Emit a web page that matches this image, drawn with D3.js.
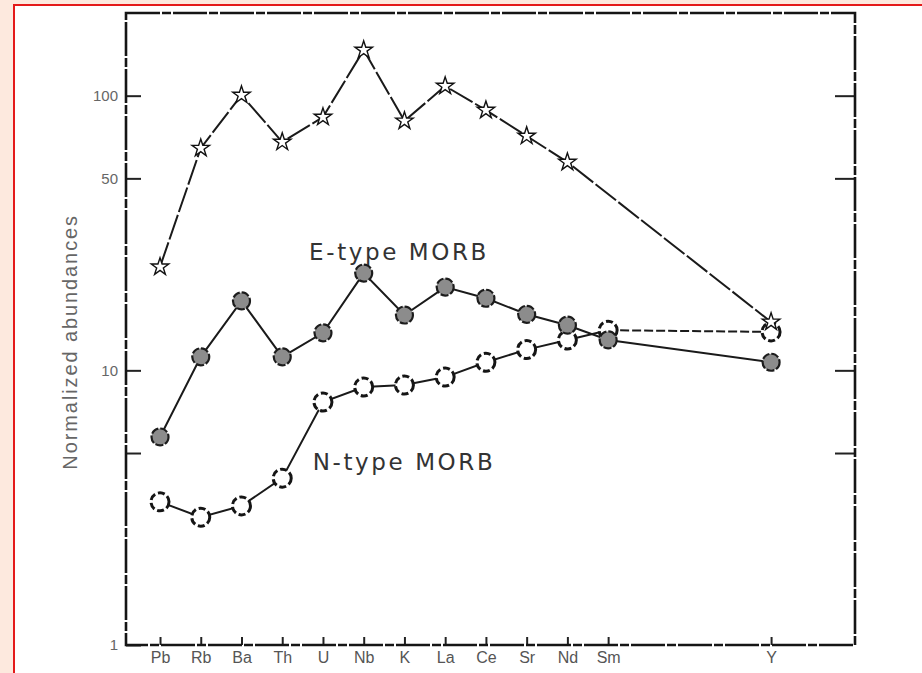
<!DOCTYPE html>
<meta charset="utf-8">
<style>
  body { margin: 0; background: #fde9de; }
  text { font-family: "Liberation Sans", Arial, sans-serif; }
</style>
<body>
<script src="https://d3js.org/d3.v7.min.js"></script>
<script>

// element order along the x axis (Y sits apart at position 15)
var categories = ["Pb", "Rb", "Ba", "Th", "U", "Nb", "K", "La", "Ce", "Sr", "Nd", "Sm", "Y"];
var catPos     = [0, 1, 2, 3, 4, 5, 6, 7, 8, 9, 10, 11, 15];

// normalized abundances
var oib   = [23.8, 64.4, 100.5, 67.8, 83.6, 146.6, 80.9, 108.4, 88.6, 71.3, 57.3, null, 15.0];
var eMorb = [5.72, 11.2, 17.9, 11.2, 13.7, 22.6, 15.9, 20.1, 18.3, 16.0, 14.6, 12.9, 10.7];
var nMorb = [3.32, 2.92, 3.21, 4.05, 7.67, 8.70, 8.84, 9.45, 10.7, 11.9, 12.9, 14.0, 13.8];

var yTicks  = [1, 5, 10, 50, 100];
var yLabels = {1: "1", 10: "10", 50: "50", 100: "100"};

var W = 922, H = 673;
var plot = {left: 126, right: 855, top: 13, bottom: 645};

var svg = d3.select("body").append("svg")
    .attr("width", W)
    .attr("height", H);

// page frame: peach outside, red border, white sheet
svg.append("rect").attr("width", W).attr("height", H).attr("fill", "#fde9de");
svg.append("rect")
    .attr("x", 14).attr("y", 5)
    .attr("width", W + 20).attr("height", H + 20)
    .attr("fill", "#fff")
    .attr("stroke", "#e41a1a")
    .attr("stroke-width", 2);

var x = d3.scaleLinear()
    .domain([-0.835, 17.06])
    .range([plot.left, plot.right]);

var y = d3.scaleLog()
    .domain([1, 200])
    .range([plot.bottom, plot.top]);

// left axis
svg.append("g")
    .attr("transform", "translate(" + plot.left + ",0)")
    .call(d3.axisLeft(y)
        .tickValues(yTicks)
        .tickSizeInner(-15)
        .tickSizeOuter(0)
        .tickPadding(8)
        .tickFormat(function(d) { return yLabels[d] || ""; }))
    .call(function(g) {
      g.select(".domain").remove();
      g.selectAll(".tick line").attr("stroke", "#222").attr("stroke-width", 2);
      g.selectAll(".tick text").attr("fill", "#666").style("font-size", "15px");
    });

// right axis (ticks only)
svg.append("g")
    .attr("transform", "translate(" + plot.right + ",0)")
    .call(d3.axisRight(y)
        .tickValues(yTicks.slice(1))
        .tickSizeInner(-20)
        .tickSizeOuter(0)
        .tickFormat(""))
    .call(function(g) {
      g.select(".domain").remove();
      g.selectAll(".tick line").attr("stroke", "#222").attr("stroke-width", 2);
    });

// bottom axis
svg.append("g")
    .attr("transform", "translate(0," + plot.bottom + ")")
    .call(d3.axisBottom(x)
        .tickValues(catPos)
        .tickSizeInner(-8)
        .tickSizeOuter(0)
        .tickPadding(7)
        .tickFormat(function(d) { return categories[catPos.indexOf(d)]; }))
    .call(function(g) {
      g.select(".domain").remove();
      g.selectAll(".tick line").attr("stroke", "#222").attr("stroke-width", 2);
      g.selectAll(".tick text").attr("fill", "#555").style("font-size", "16px");
    });

// box around the plot, a bit broken like the scan
svg.append("rect")
    .attr("x", plot.left).attr("y", plot.top)
    .attr("width", plot.right - plot.left)
    .attr("height", plot.bottom - plot.top)
    .attr("fill", "none")
    .attr("stroke", "#151515")
    .attr("stroke-width", 2.6)
    .attr("stroke-dasharray", "34,2,9,2");

// y axis title
svg.append("text")
    .attr("transform", "translate(77," + y(12.7) + ") rotate(-90)")
    .attr("text-anchor", "middle")
    .attr("fill", "#666")
    .style("font-size", "20px")
    .style("letter-spacing", "1.9px")
    .text("Normalized abundances");

function toPoints(values) {
  return values.map(function(v, i) { return {pos: catPos[i], v: v}; })
               .filter(function(d) { return d.v != null; });
}

var line = d3.line()
    .x(function(d) { return x(d.pos); })
    .y(function(d) { return y(d.v); });

var nPts = toPoints(nMorb),
    ePts = toPoints(eMorb),
    oPts = toPoints(oib);

function drawLine(pts, dash) {
  svg.append("path")
      .datum(pts)
      .attr("fill", "none")
      .attr("stroke", "#1a1a1a")
      .attr("stroke-width", 2)
      .attr("stroke-dasharray", dash)
      .attr("d", line);
}

// N-type: solid up to Sm, the Sm - Y stretch is dashed in the figure
drawLine(nPts.slice(0, -1), "none");
drawLine(nPts.slice(-2), "9,3");
drawLine(ePts, "none");
drawLine(oPts, "26,3");

// N-type markers: open, rough circles
svg.append("g").selectAll("circle")
    .data(nPts)
  .enter().append("circle")
    .attr("cx", function(d) { return x(d.pos); })
    .attr("cy", function(d) { return y(d.v); })
    .attr("r", 9)
    .attr("fill", "#fff")
    .attr("stroke", "#151515")
    .attr("stroke-width", 3)
    .attr("stroke-dasharray", "7,3");

// E-type markers: grey filled circles
svg.append("g").selectAll("circle")
    .data(ePts)
  .enter().append("circle")
    .attr("cx", function(d) { return x(d.pos); })
    .attr("cy", function(d) { return y(d.v); })
    .attr("r", 8.5)
    .attr("fill", "#8c8c8c")
    .attr("stroke", "#1c1c1c")
    .attr("stroke-width", 2.2)
    .attr("stroke-dasharray", "8,2");

// top series: stars
svg.append("g").selectAll("path")
    .data(oPts)
  .enter().append("path")
    .attr("transform", function(d) { return "translate(" + x(d.pos) + "," + y(d.v) + ")"; })
    .attr("d", d3.symbol(d3.symbolStar, 95))
    .attr("fill", "#fff")
    .attr("stroke", "#111")
    .attr("stroke-width", 1.4);

// series labels
svg.append("text")
    .attr("x", x(3.66)).attr("y", y(25.3))
    .attr("fill", "#333")
    .style("font-family", "'DejaVu Sans', sans-serif")
    .style("font-size", "23px")
    .style("letter-spacing", "2.6px")
    .text("E-type MORB");

svg.append("text")
    .attr("x", x(3.75)).attr("y", y(4.35))
    .attr("fill", "#333")
    .style("font-family", "'DejaVu Sans', sans-serif")
    .style("font-size", "23px")
    .style("letter-spacing", "2.6px")
    .text("N-type MORB");

</script>
</body>
